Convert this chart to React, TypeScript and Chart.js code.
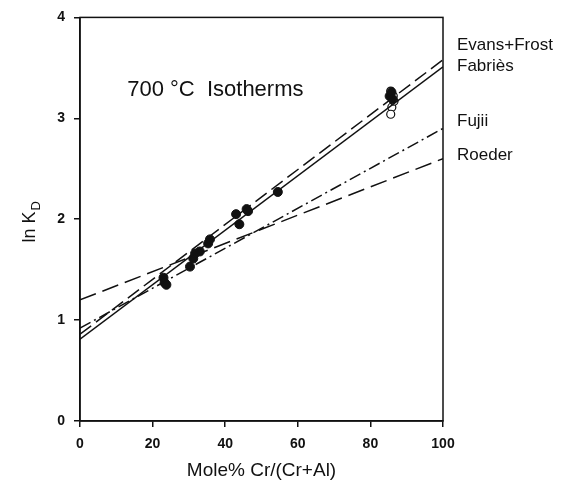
import React, { useEffect, useRef } from "react";
import { Chart, registerables } from "chart.js";

Chart.register(...registerables);

// Axis ticks
const xTicks = [0, 20, 40, 60, 80, 100];
const yTicks = [0, 1, 2, 3, 4];

// Measured ln KD vs Cr# (filled symbols)
const filledX = [23.0, 23.3, 23.8, 30.3, 31.2, 31.7, 33.0, 35.3, 35.8, 43.0, 43.9, 45.9, 46.3, 54.5, 85.3, 85.8, 86.1];
const filledY = [1.42, 1.37, 1.35, 1.53, 1.61, 1.66, 1.68, 1.76, 1.80, 2.05, 1.95, 2.10, 2.08, 2.27, 3.22, 3.26, 3.19];

// Open symbols at high Cr#
const openX = [85.6, 86.3, 85.9, 86.5, 85.6];
const openY = [3.27, 3.22, 3.11, 3.17, 3.04];

// Isotherm lines (700 °C), end points at Cr# 0 and 100
const lineX = [0, 100];
const evansFrostY = [0.86, 3.58];
const fabriesY = [0.81, 3.51];
const fujiiY = [0.92, 2.9];
const roederY = [1.2, 2.6];

const lineNames = ["Evans+Frost", "Fabriès", "Fujii", "Roeder"];

const INK = "#111";
const FONT = "'Liberation Sans', Arial, sans-serif";

const pts = (xs: number[], ys: number[]) => xs.map((x, i) => ({ x, y: ys[i] }));

const annotate = {
  id: "annotate",
  afterDraw(chart: any) {
    const { ctx, chartArea, scales } = chart;
    const xs = scales.x;
    const ys = scales.y;
    ctx.save();
    // frame
    ctx.strokeStyle = INK;
    ctx.lineWidth = 1.5;
    ctx.strokeRect(chartArea.left, chartArea.top, chartArea.right - chartArea.left, chartArea.bottom - chartArea.top);

    ctx.fillStyle = INK;
    // title inside plot
    ctx.font = `22px ${FONT}`;
    ctx.textBaseline = "middle";
    ctx.textAlign = "left";
    ctx.fillText("700 °C  Isotherms", xs.getPixelForValue(13), ys.getPixelForValue(3.28));

    // line names to the right of the frame
    const rowValues = [3.72, 3.52, 2.97, 2.63];
    ctx.font = `17px ${FONT}`;
    lineNames.forEach((name, i) => {
      ctx.fillText(name, chartArea.right + 14, ys.getPixelForValue(rowValues[i]));
    });

    // x axis title
    ctx.font = `19px ${FONT}`;
    ctx.textAlign = "center";
    ctx.fillText("Mole% Cr/(Cr+Al)", (chartArea.left + chartArea.right) / 2, 471);

    // y axis title with subscript
    ctx.translate(30, ys.getPixelForValue(1.97));
    ctx.rotate(-Math.PI / 2);
    ctx.textAlign = "left";
    const main = "ln K";
    ctx.font = `18px ${FONT}`;
    const w1 = ctx.measureText(main).width;
    ctx.font = `13px ${FONT}`;
    const w2 = ctx.measureText("D").width;
    const start = -(w1 + w2) / 2;
    ctx.font = `18px ${FONT}`;
    ctx.fillText(main, start, 0);
    ctx.font = `13px ${FONT}`;
    ctx.fillText("D", start + w1 + 1, 6);
    ctx.restore();
  },
};

export default function App() {
  const ref = useRef<HTMLCanvasElement>(null);

  useEffect(() => {
    document.body.style.margin = "0";
    const canvas = ref.current!;
    const lineDs = (data: number[], dash: number[]) => ({
      type: "line" as const,
      data: pts(lineX, data),
      borderColor: INK,
      borderWidth: 1.5,
      borderDash: dash,
      pointRadius: 0,
      fill: false,
    });
    const chart = new Chart(canvas, {
      type: "scatter",
      data: {
        datasets: [
          lineDs(evansFrostY, [14, 6]),
          lineDs(fabriesY, []),
          lineDs(fujiiY, [12, 4, 2, 4]),
          lineDs(roederY, [17, 7]),
          {
            data: pts(filledX, filledY),
            pointRadius: 4.5,
            pointBackgroundColor: INK,
            pointBorderColor: INK,
            borderWidth: 1,
          },
          {
            data: pts(openX, openY),
            pointRadius: 4,
            pointBackgroundColor: "#fff",
            pointBorderColor: INK,
            pointBorderWidth: 1.2,
          },
        ] as any,
      },
      options: {
        responsive: false,
        animation: false,
        events: [],
        layout: { padding: { top: 14, right: 124, left: 0, bottom: 0 } },
        plugins: { legend: { display: false }, tooltip: { enabled: false } },
        scales: {
          x: {
            type: "linear",
            min: 0,
            max: 100,
            afterBuildTicks: (s: any) => {
              s.ticks = xTicks.map((v) => ({ value: v }));
            },
            afterFit: (s: any) => {
              s.height = 68;
            },
            grid: { drawOnChartArea: false, drawTicks: true, tickLength: 6, color: INK, lineWidth: 1.5 },
            border: { display: true, color: INK, width: 1.5 },
            ticks: { color: INK, font: { family: FONT, size: 14, weight: "bold" }, padding: 9, maxRotation: 0 },
          },
          y: {
            type: "linear",
            min: 0,
            max: 4,
            afterBuildTicks: (s: any) => {
              s.ticks = yTicks.map((v) => ({ value: v }));
            },
            afterFit: (s: any) => {
              s.width = 80;
            },
            grid: { drawOnChartArea: false, drawTicks: true, tickLength: 6, color: INK, lineWidth: 1.5 },
            border: { display: true, color: INK, width: 1.5 },
            ticks: { color: INK, font: { family: FONT, size: 14, weight: "bold" }, padding: 9 },
          },
        },
      } as any,
      plugins: [annotate],
    });
    return () => chart.destroy();
  }, []);

  return <canvas ref={ref} width={567} height={489} style={{ display: "block" }} />;
}
